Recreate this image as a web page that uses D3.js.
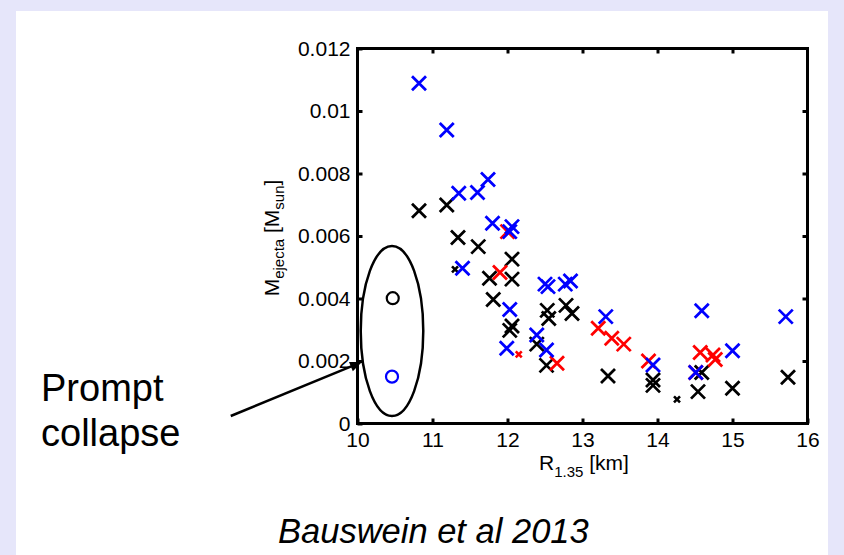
<!DOCTYPE html>
<html>
<head>
<meta charset="utf-8">
<script src="https://cdn.jsdelivr.net/npm/d3@7"></script>
<style>
  html, body { margin: 0; padding: 0; background: #e6e6fa; }
  svg { display: block; }
  text { font-family: "Liberation Sans", Arial, sans-serif; }
</style>
</head>
<body>
<script>
// ---- Data ----
const xTicks = [10, 11, 12, 13, 14, 15, 16];
const xTickLabels = ["10", "11", "12", "13", "14", "15", "16"];
const yTicks = [0, 0.002, 0.004, 0.006, 0.008, 0.01, 0.012];
const yTickLabels = ["0", "0.002", "0.004", "0.006", "0.008", "0.01", "0.012"];

// black crosses
const blackR = [10.82, 11.19, 11.34, 11.61, 11.76, 12.06, 12.06, 11.81, 12.03, 12.06, 12.39, 12.52, 12.53, 12.55, 12.78, 12.86, 13.34, 13.94, 13.94, 14.54, 14.59, 15.0, 15.74];
const blackM = [0.00681, 0.00699, 0.00595, 0.00566, 0.00465, 0.00462, 0.00526, 0.00397, 0.00298, 0.00312, 0.00254, 0.00186, 0.00362, 0.00336, 0.00378, 0.00352, 0.00152, 0.00139, 0.00122, 0.00102, 0.00163, 0.00113, 0.00148];
// small black crosses
const blackSmallR = [11.30, 14.26];
const blackSmallM = [0.00493, 0.00077];
// blue crosses
const blueR = [10.82, 11.19, 11.35, 11.60, 11.74, 11.80, 12.06, 12.03, 11.40, 12.03, 11.99, 12.39, 12.52, 12.50, 12.54, 12.77, 12.84, 13.31, 13.94, 14.51, 14.59, 15.0, 15.71];
const blueM = [0.01089, 0.00939, 0.00737, 0.00739, 0.00781, 0.00641, 0.0063, 0.00614, 0.00497, 0.00365, 0.00241, 0.00283, 0.00235, 0.00446, 0.00438, 0.00446, 0.00456, 0.00342, 0.00187, 0.00163, 0.00361, 0.00233, 0.00342];
// red crosses
const redR = [12.0, 11.90, 12.66, 13.21, 13.39, 13.55, 13.88, 14.51, 14.57, 14.74, 14.77];
const redM = [0.00614, 0.00483, 0.00193, 0.00305, 0.00273, 0.00254, 0.0020, 0.00163, 0.00227, 0.00219, 0.00205];
// small red cross
const redSmallR = [12.15];
const redSmallM = [0.00221];
// prompt collapse circles
const collapseR = [10.47, 10.46];
const collapseM = [0.00401, 0.0015];
const collapseColor = ["black", "blue"];
// ellipse around prompt collapse (center, semi-axes in data units)
const ellipseCenter = [10.46, 0.00296];
const ellipseRadii = [0.417, 0.00272];
// annotation arrow (data units)
const arrowFrom = [8.31, 0.00024];
const arrowTo = [10.06, 0.00197];

// ---- Layout ----
const W = 844, H = 555;
const svg = d3.select("body").append("svg").attr("width", W).attr("height", H);
svg.append("rect").attr("x", 0).attr("y", 0).attr("width", W).attr("height", H).attr("fill", "#e6e6fa");
svg.append("rect").attr("x", 16).attr("y", 11).attr("width", 812).attr("height", H - 11).attr("fill", "#ffffff");

const x = d3.scaleLinear().domain([10, 16]).range([357.5, 807.5]);
const y = d3.scaleLinear().domain([0, 0.012]).range([423.5, 48.5]);

const g = svg.append("g");

// Axes
const axB = g.append("g").attr("transform", `translate(0,${y(0)})`)
  .call(d3.axisBottom(x).tickValues(xTicks).tickFormat((d, i) => xTickLabels[i]).tickSize(-5).tickSizeOuter(0).tickPadding(9));
const axL = g.append("g").attr("transform", `translate(${x(10)},0)`)
  .call(d3.axisLeft(y).tickValues(yTicks).tickFormat((d, i) => yTickLabels[i]).tickSize(-5).tickSizeOuter(0).tickPadding(7));
const axT = g.append("g").attr("transform", `translate(0,${y(0.012)})`)
  .call(d3.axisTop(x).tickValues(xTicks.slice(1, -1)).tickSize(-5).tickSizeOuter(0).tickFormat(""));
const axR = g.append("g").attr("transform", `translate(${x(16)},0)`)
  .call(d3.axisRight(y).tickValues(yTicks.slice(1, -1)).tickSize(-5).tickSizeOuter(0).tickFormat(""));
[axB, axL, axT, axR].forEach(a => {
  a.select(".domain").remove();
  a.selectAll(".tick line").attr("stroke", "#000").attr("stroke-width", 3);
  a.selectAll(".tick text").attr("font-size", 21).attr("fill", "#000")
    .style("font-family", '"Liberation Sans", Arial, sans-serif');
});
// frame
g.append("rect")
  .attr("x", x(10)).attr("y", y(0.012))
  .attr("width", x(16) - x(10)).attr("height", y(0) - y(0.012))
  .attr("fill", "none").attr("stroke", "#000").attr("stroke-width", 3);

// Axis labels
const yl = g.append("text")
  .attr("transform", `translate(279,${(y(0) + y(0.012)) / 2 + 2}) rotate(-90)`)
  .attr("text-anchor", "middle").attr("font-size", 21).attr("fill", "#000");
yl.append("tspan").text("M");
yl.append("tspan").attr("font-size", 15).attr("dy", 5).text("ejecta");
yl.append("tspan").attr("dy", -5).text(" [M");
yl.append("tspan").attr("font-size", 15).attr("dy", 5).text("sun");
yl.append("tspan").attr("dy", -5).text("]");

const xl = g.append("text")
  .attr("x", 584).attr("y", 470)
  .attr("text-anchor", "middle").attr("font-size", 21).attr("fill", "#000");
xl.append("tspan").text("R");
xl.append("tspan").attr("font-size", 15).attr("dy", 7).text("1.35");
xl.append("tspan").attr("dy", -7).text(" [km]");

// Ellipse
g.append("ellipse")
  .attr("cx", x(ellipseCenter[0])).attr("cy", y(ellipseCenter[1]))
  .attr("rx", x(ellipseCenter[0] + ellipseRadii[0]) - x(ellipseCenter[0]))
  .attr("ry", y(ellipseCenter[1]) - y(ellipseCenter[1] + ellipseRadii[1]))
  .attr("fill", "none").attr("stroke", "#000").attr("stroke-width", 2.5);

// Cross drawing helper
function crosses(xs, ys, color, size, sw) {
  const pts = xs.map((v, i) => [v, ys[i]]);
  g.append("g").selectAll("path").data(pts).join("path")
    .attr("d", d => {
      const cx = x(d[0]), cy = y(d[1]);
      return `M${cx - size},${cy - size}L${cx + size},${cy + size}M${cx - size},${cy + size}L${cx + size},${cy - size}`;
    })
    .attr("stroke", color).attr("stroke-width", sw).attr("fill", "none");
}
crosses(blackR, blackM, "#000", 7, 2.8);
crosses(blackSmallR, blackSmallM, "#000", 3, 2.6);
crosses(redR, redM, "#ff0000", 7, 2.8);
crosses(redSmallR, redSmallM, "#ff0000", 3, 2.6);
crosses(blueR, blueM, "#0000ff", 7, 2.8);

// Prompt collapse circles
g.append("g").selectAll("circle").data(collapseR.map((v, i) => [v, collapseM[i], collapseColor[i]])).join("circle")
  .attr("cx", d => x(d[0])).attr("cy", d => y(d[1])).attr("r", 6)
  .attr("fill", "none").attr("stroke", d => d[2]).attr("stroke-width", 2.2);

// Arrow
const x1 = x(arrowFrom[0]), y1 = y(arrowFrom[1]), x2 = x(arrowTo[0]), y2 = y(arrowTo[1]);
const ang = Math.atan2(y2 - y1, x2 - x1);
const hl = 12, hw = 5;
g.append("line").attr("x1", x1).attr("y1", y1)
  .attr("x2", x2 - Math.cos(ang) * hl * 0.8).attr("y2", y2 - Math.sin(ang) * hl * 0.8)
  .attr("stroke", "#000").attr("stroke-width", 2.5);
const bx = x2 - Math.cos(ang) * hl, by = y2 - Math.sin(ang) * hl;
g.append("path")
  .attr("d", `M${x2},${y2}L${bx - Math.sin(ang) * hw},${by + Math.cos(ang) * hw}L${bx + Math.sin(ang) * hw},${by - Math.cos(ang) * hw}Z`)
  .attr("fill", "#000");

// Annotation texts
const ann = g.append("text").attr("font-size", 38).attr("fill", "#000");
ann.append("tspan").attr("x", 41).attr("y", 401).text("Prompt");
ann.append("tspan").attr("x", 41).attr("y", 446).text("collapse");

g.append("text").attr("x", 278).attr("y", 543)
  .attr("font-size", 34.5).attr("font-style", "italic").attr("fill", "#000")
  .text("Bauswein et al 2013");
</script>
</body>
</html>
